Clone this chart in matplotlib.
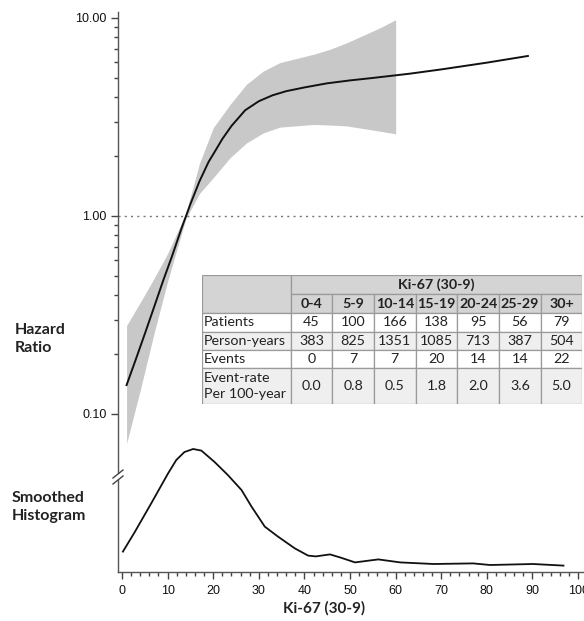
import numpy as np
import matplotlib
matplotlib.use("Agg")
import matplotlib.pyplot as plt
from matplotlib.patches import Rectangle
from matplotlib.ticker import FixedLocator, NullFormatter, FixedFormatter

# hazard ratio spline (Ki-67 value -> HR)
hr_x = [1, 3, 5, 7, 9, 11, 13, 15, 17, 19, 20, 22, 24, 27, 30, 33, 36, 40, 45, 50, 55,
        63, 70, 80, 89]
hr_y = [0.140, 0.188, 0.254, 0.345, 0.47, 0.63, 0.86, 1.15, 1.50, 1.88, 2.05, 2.45, 2.85,
        3.42, 3.8, 4.07, 4.27, 4.46, 4.68, 4.84, 4.98, 5.23, 5.5, 5.95, 6.43]

# 95% confidence band
ci_x = [1, 4, 7, 10, 14, 17, 20, 23.7, 27.3, 31, 34.6, 42, 45.6, 49.3, 56.6, 60]
ci_lo = [0.071, 0.132, 0.254, 0.468, 0.97, 1.3, 1.56, 1.97, 2.34, 2.63, 2.81, 2.9, 2.88,
         2.85, 2.68, 2.6]
ci_hi = [0.28, 0.366, 0.483, 0.646, 1.03, 1.85, 2.79, 3.66, 4.63, 5.4, 5.95, 6.56, 6.95,
         7.5, 8.93, 9.8]

# smoothed histogram of Ki-67 (arbitrary density units)
hist_x = [0.2, 2.8, 6.4, 10.1, 11.9, 13.7, 15.6, 17.4, 20.3, 23.2, 26.2, 28.4, 31.3, 34.2,
          37.9, 40.8, 42.5, 45.6, 47.8, 51.1, 56.2, 61, 68.3, 77, 80.7, 90.1, 96.8]
hist_y = [1.02, 2.0, 3.43, 4.93, 5.6, 6.0, 6.15, 6.07, 5.5, 4.85, 4.1, 3.27, 2.27, 1.77,
          1.18, 0.82, 0.78, 0.88, 0.73, 0.48, 0.63, 0.48, 0.4, 0.43, 0.35, 0.4, 0.32]

# table
tab_groups = ["0-4", "5-9", "10-14", "15-19", "20-24", "25-29", "30+"]
tab_rows = ["Patients", "Person-years", "Events", "Event-rate\nPer 100-year"]
patients = [45, 100, 166, 138, 95, 56, 79]
person_years = [383, 825, 1351, 1085, 713, 387, 504]
events = [0, 7, 7, 20, 14, 14, 22]
event_rate = ["0.0", "0.8", "0.5", "1.8", "2.0", "3.6", "5.0"]

W, H = 584, 621
fig = plt.figure(figsize=(W / 100, H / 100), dpi=100)

def rect(x0, y0, x1, y1):
    return [x0 / W, 1 - y1 / H, (x1 - x0) / W, (y1 - y0) / H]

ax = fig.add_axes(rect(118, 12, 584, 572))
ax.set_yscale("log")
ax.set_xlim(-0.88, 101.3)
ax.set_ylim(10 ** (-1 - 158 / 198), 10 ** (1 + 6 / 198))

ax.fill_between(ci_x, ci_lo, ci_hi, color="#c8c8c8", lw=0, zorder=1)
ax.plot(hr_x, hr_y, color="#111111", lw=1.4, zorder=3)
ax.axhline(1.0, color="#777777", lw=1.0, ls=(0, (1.5, 3)), zorder=2)

for s in ["top", "right"]:
    ax.spines[s].set_visible(False)
for s in ["left", "bottom"]:
    ax.spines[s].set_color("#555555")
    ax.spines[s].set_linewidth(1.0)

ax.yaxis.set_major_locator(FixedLocator([0.1, 1, 10]))
ax.yaxis.set_major_formatter(FixedFormatter(["0.10", "1.00", "10.00"]))
ax.yaxis.set_minor_locator(FixedLocator([v * m for v in (0.1, 1) for m in range(2, 10)]))
ax.yaxis.set_minor_formatter(NullFormatter())
ax.set_xticks(range(0, 101, 10))
ax.set_xticks(range(0, 101, 2), minor=True)
ax.tick_params(axis="both", which="major", length=5, width=1.0, color="#444444",
               labelsize=9, labelcolor="#111111")
ax.tick_params(axis="both", which="minor", length=3, width=1.0, color="#444444")
ax.tick_params(axis="x", pad=4)
ax.tick_params(axis="y", pad=3)
for lab in ax.get_xticklabels() + ax.get_yticklabels():
    lab.set_fontfamily("Liberation Sans")

# break marks on the left spine
fig.add_artist(Rectangle((114 / W, 1 - 480 / H), 8 / W, 6 / H, color="white", lw=0, zorder=2))
for dy in (-3, 3):
    fig.add_artist(plt.Line2D([113 / W, 123 / W],
                              [1 - (477 + dy + 4) / H, 1 - (477 + dy - 4) / H],
                              color="#444444", lw=1.0, zorder=3))

# smoothed histogram overlay
hax = fig.add_axes(rect(118, 12, 584, 572))
hax.set_xlim(ax.get_xlim())
hax.set_ylim(0, 28)
hax.axis("off")
hax.plot(hist_x, hist_y, color="#111111", lw=1.3)

lab_font = dict(family="Lato", weight="bold", color="#222222")
fig.text(15 / W, 1 - 339 / H, "Hazard\nRatio", ha="left", va="center", linespacing=1.45,
         fontsize=11.5, **lab_font)
fig.text(12 / W, 1 - 507 / H, "Smoothed\nHistogram", ha="left", va="center", linespacing=1.45,
         fontsize=11.5, **lab_font)
fig.text(324 / W, 1 - 608 / H, "Ki-67 (30-9)", ha="center", va="center", fontsize=11, **lab_font)

# table drawn in pixel coordinates
col_edges = [202, 290.7, 332.3, 374, 415.7, 457.3, 499, 540.7, 582.3]
row_edges = [275, 294, 313, 331.5, 350, 367.5, 404]
tax = fig.add_axes(rect(col_edges[0], row_edges[0], col_edges[-1], row_edges[-1]))
tax.set_xlim(col_edges[0], col_edges[-1])
tax.set_ylim(row_edges[-1], row_edges[0])
tax.axis("off")

hdr = "#d4d4d4"
alt = "#efefef"
border = "#9a9a9a"
row_fill = ["white", alt, "white", alt]
tfont = dict(family="Lato", fontsize=10.3, color="#222222")

def cell(x0, x1, y0, y1, fc):
    tax.add_patch(Rectangle((x0, y0), x1 - x0, y1 - y0, facecolor=fc, edgecolor=border, lw=0.9))

cell(col_edges[0], col_edges[1], row_edges[0], row_edges[2], hdr)
cell(col_edges[1], col_edges[-1], row_edges[0], row_edges[1], hdr)
tax.text((col_edges[1] + col_edges[-1]) / 2, (row_edges[0] + row_edges[1]) / 2, "Ki-67 (30-9)",
         ha="center", va="center", weight="bold", **tfont)
for j, g in enumerate(tab_groups):
    cell(col_edges[j + 1], col_edges[j + 2], row_edges[1], row_edges[2], hdr)
    tax.text((col_edges[j + 1] + col_edges[j + 2]) / 2, (row_edges[1] + row_edges[2]) / 2, g,
             ha="center", va="center", weight="bold", **tfont)

values = [patients, person_years, events, event_rate]
for i, (name, vals) in enumerate(zip(tab_rows, values)):
    y0, y1 = row_edges[i + 2], row_edges[i + 3]
    cell(col_edges[0], col_edges[1], y0, y1, row_fill[i])
    tax.text(col_edges[0] + 2, (y0 + y1) / 2, name, ha="left", va="center", linespacing=1.4, **tfont)
    for j, v in enumerate(vals):
        cell(col_edges[j + 1], col_edges[j + 2], y0, y1, row_fill[i])
        tax.text((col_edges[j + 1] + col_edges[j + 2]) / 2, (y0 + y1) / 2, str(v),
                 ha="center", va="center", **tfont)

fig.savefig("out.png", dpi=100)
